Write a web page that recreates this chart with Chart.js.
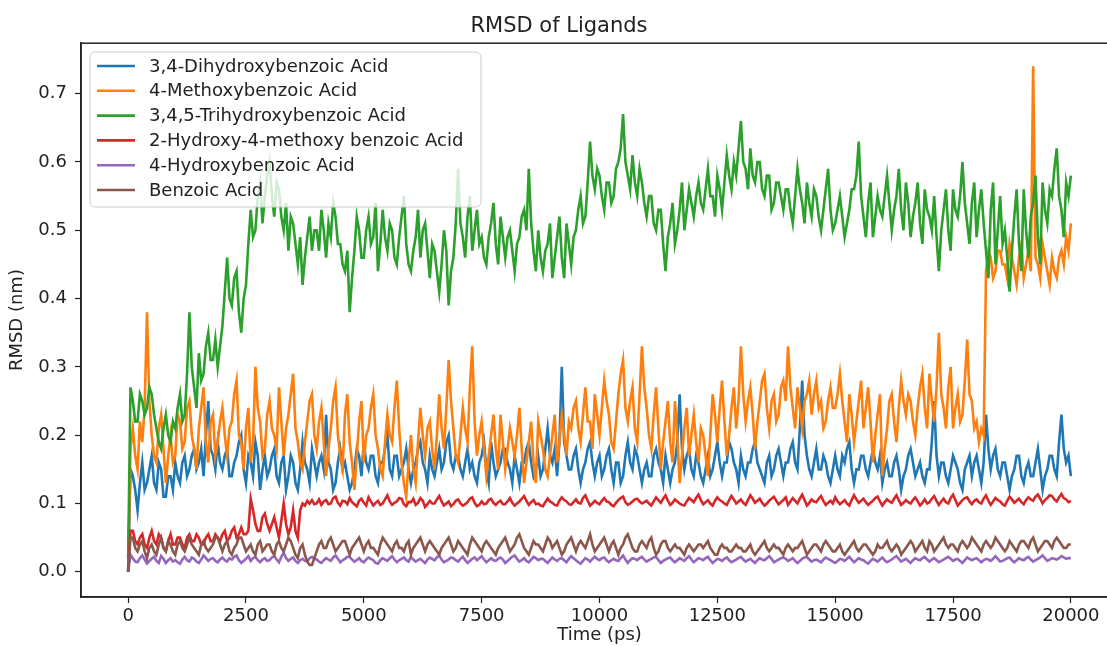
<!DOCTYPE html>
<html>
<head>
<meta charset="utf-8">
<script src="https://cdn.jsdelivr.net/npm/chart.js@4.4.1/dist/chart.umd.min.js"></script>
<style>
  html, body { margin: 0; padding: 0; background: #fff; overflow: hidden; }
  #wrap { width: 1130px; height: 646px; }
</style>
</head>
<body>
<div id="wrap"><canvas id="rmsd" width="1130" height="646"></canvas></div>
<script>
// RMSD (nm), one value every 50 ps from 0 to 20000 ps (20 values per row = 1000 ps)
var labels = ["3,4-Dihydroxybenzoic Acid", "4-Methoxybenzoic Acid", "3,4,5-Trihydroxybenzoic Acid",
              "2-Hydroxy-4-methoxy benzoic Acid", "4-Hydroxybenzoic Acid", "Benzoic Acid"];
var colors = ["#1f77b4", "#ff7f0e", "#2ca02c", "#d62728", "#9467bd", "#8c564b"];
var stepPs = 50;
var xTicks = [0, 2500, 5000, 7500, 10000, 12500, 15000, 17500, 20000];
var yTicks = [0.0, 0.1, 0.2, 0.3, 0.4, 0.5, 0.6, 0.7];

var dihydroxy = [
  0.00, 0.15, 0.14, 0.12, 0.09, 0.13, 0.16, 0.12, 0.13, 0.15, 0.17, 0.13, 0.12, 0.16, 0.15, 0.11, 0.11, 0.14, 0.14, 0.12,
  0.16, 0.14, 0.13, 0.16, 0.17, 0.14, 0.15, 0.17, 0.18, 0.15, 0.16, 0.18, 0.14, 0.20, 0.25, 0.18, 0.17, 0.15, 0.19, 0.16,
  0.15, 0.17, 0.18, 0.14, 0.14, 0.16, 0.17, 0.19, 0.20, 0.15, 0.13, 0.17, 0.16, 0.14, 0.19, 0.17, 0.12, 0.15, 0.17, 0.14,
  0.15, 0.17, 0.18, 0.14, 0.13, 0.16, 0.17, 0.12, 0.14, 0.17, 0.16, 0.13, 0.12, 0.15, 0.19, 0.16, 0.15, 0.13, 0.18, 0.16,
  0.14, 0.16, 0.17, 0.15, 0.23, 0.16, 0.15, 0.12, 0.13, 0.16, 0.18, 0.15, 0.16, 0.14, 0.12, 0.13, 0.15, 0.18, 0.17, 0.14,
  0.19, 0.16, 0.15, 0.17, 0.17, 0.14, 0.13, 0.16, 0.16, 0.18, 0.20, 0.15, 0.14, 0.17, 0.17, 0.14, 0.15, 0.16, 0.18, 0.15,
  0.13, 0.15, 0.16, 0.18, 0.19, 0.16, 0.15, 0.13, 0.17, 0.15, 0.14, 0.16, 0.18, 0.15, 0.16, 0.19, 0.20, 0.16, 0.15, 0.17,
  0.17, 0.15, 0.14, 0.16, 0.18, 0.15, 0.16, 0.14, 0.13, 0.16, 0.17, 0.19, 0.15, 0.13, 0.19, 0.16, 0.14, 0.15, 0.16, 0.18,
  0.18, 0.16, 0.15, 0.13, 0.17, 0.15, 0.13, 0.16, 0.16, 0.18, 0.19, 0.16, 0.14, 0.15, 0.17, 0.14, 0.15, 0.18, 0.21, 0.17,
  0.16, 0.18, 0.14, 0.19, 0.30, 0.19, 0.17, 0.15, 0.15, 0.17, 0.18, 0.15, 0.13, 0.15, 0.16, 0.18, 0.19, 0.16, 0.14, 0.16,
  0.17, 0.14, 0.15, 0.17, 0.18, 0.15, 0.13, 0.16, 0.16, 0.13, 0.14, 0.17, 0.19, 0.16, 0.15, 0.18, 0.17, 0.15, 0.13, 0.15,
  0.16, 0.14, 0.14, 0.17, 0.18, 0.16, 0.15, 0.13, 0.17, 0.15, 0.13, 0.15, 0.16, 0.19, 0.26, 0.18, 0.15, 0.17, 0.18, 0.15,
  0.14, 0.17, 0.16, 0.14, 0.13, 0.15, 0.17, 0.14, 0.15, 0.17, 0.19, 0.16, 0.14, 0.16, 0.16, 0.19, 0.18, 0.16, 0.15, 0.13,
  0.17, 0.15, 0.14, 0.16, 0.16, 0.18, 0.19, 0.16, 0.15, 0.14, 0.13, 0.16, 0.17, 0.14, 0.15, 0.17, 0.18, 0.16, 0.14, 0.16,
  0.16, 0.18, 0.19, 0.16, 0.15, 0.21, 0.28, 0.20, 0.17, 0.15, 0.14, 0.16, 0.18, 0.15, 0.15, 0.17, 0.16, 0.14, 0.13, 0.15,
  0.17, 0.15, 0.14, 0.17, 0.16, 0.18, 0.19, 0.15, 0.13, 0.15, 0.15, 0.17, 0.17, 0.15, 0.14, 0.16, 0.18, 0.16, 0.15, 0.17,
  0.13, 0.15, 0.16, 0.14, 0.14, 0.16, 0.17, 0.15, 0.12, 0.14, 0.15, 0.17, 0.18, 0.16, 0.14, 0.15, 0.16, 0.14, 0.13, 0.15,
  0.15, 0.19, 0.25, 0.17, 0.14, 0.16, 0.16, 0.14, 0.13, 0.15, 0.17, 0.16, 0.15, 0.13, 0.12, 0.15, 0.16, 0.17, 0.14, 0.16,
  0.17, 0.15, 0.13, 0.16, 0.23, 0.18, 0.15, 0.17, 0.18, 0.15, 0.14, 0.16, 0.16, 0.14, 0.12, 0.14, 0.15, 0.17, 0.17, 0.14,
  0.13, 0.15, 0.16, 0.14, 0.14, 0.16, 0.18, 0.15, 0.12, 0.14, 0.15, 0.17, 0.17, 0.15, 0.14, 0.19, 0.23, 0.18, 0.16, 0.17,
  0.14
];

var methoxy = [
  0.00, 0.18, 0.21, 0.17, 0.15, 0.22, 0.19, 0.24, 0.38, 0.25, 0.20, 0.17, 0.16, 0.21, 0.23, 0.18, 0.13, 0.17, 0.20, 0.16,
  0.17, 0.23, 0.22, 0.18, 0.19, 0.24, 0.25, 0.20, 0.18, 0.15, 0.21, 0.24, 0.27, 0.19, 0.16, 0.22, 0.23, 0.17, 0.19, 0.22,
  0.24, 0.20, 0.17, 0.21, 0.22, 0.26, 0.28, 0.20, 0.19, 0.15, 0.21, 0.24, 0.16, 0.19, 0.30, 0.24, 0.22, 0.17, 0.18, 0.23,
  0.25, 0.21, 0.20, 0.18, 0.27, 0.22, 0.17, 0.21, 0.23, 0.26, 0.29, 0.21, 0.19, 0.16, 0.15, 0.19, 0.22, 0.25, 0.26, 0.20,
  0.18, 0.22, 0.24, 0.19, 0.14, 0.18, 0.21, 0.25, 0.27, 0.20, 0.17, 0.15, 0.23, 0.26, 0.19, 0.16, 0.12, 0.17, 0.22, 0.25,
  0.16, 0.20, 0.21, 0.24, 0.26, 0.20, 0.18, 0.15, 0.14, 0.19, 0.23, 0.20, 0.19, 0.24, 0.28, 0.21, 0.16, 0.13, 0.11, 0.16,
  0.20, 0.15, 0.13, 0.19, 0.24, 0.20, 0.17, 0.21, 0.22, 0.18, 0.15, 0.20, 0.26, 0.21, 0.18, 0.24, 0.31, 0.25, 0.21, 0.17,
  0.16, 0.20, 0.24, 0.21, 0.19, 0.27, 0.33, 0.22, 0.17, 0.20, 0.22, 0.18, 0.14, 0.17, 0.20, 0.23, 0.18, 0.15, 0.23, 0.19,
  0.15, 0.18, 0.21, 0.19, 0.17, 0.20, 0.24, 0.18, 0.13, 0.16, 0.19, 0.22, 0.16, 0.13, 0.22, 0.20, 0.18, 0.15, 0.14, 0.17,
  0.20, 0.23, 0.16, 0.19, 0.23, 0.20, 0.17, 0.22, 0.21, 0.24, 0.25, 0.21, 0.19, 0.23, 0.27, 0.22, 0.22, 0.18, 0.26, 0.23,
  0.20, 0.24, 0.28, 0.25, 0.23, 0.19, 0.18, 0.22, 0.26, 0.29, 0.31, 0.24, 0.22, 0.25, 0.27, 0.21, 0.19, 0.26, 0.33, 0.27,
  0.24, 0.20, 0.18, 0.23, 0.27, 0.21, 0.15, 0.19, 0.22, 0.25, 0.19, 0.16, 0.25, 0.20, 0.13, 0.17, 0.21, 0.24, 0.17, 0.20,
  0.23, 0.19, 0.16, 0.21, 0.20, 0.17, 0.14, 0.20, 0.26, 0.23, 0.19, 0.24, 0.28, 0.22, 0.17, 0.20, 0.24, 0.27, 0.21, 0.25,
  0.33, 0.26, 0.22, 0.25, 0.27, 0.23, 0.18, 0.22, 0.25, 0.28, 0.29, 0.24, 0.21, 0.25, 0.26, 0.22, 0.23, 0.27, 0.28, 0.25,
  0.33, 0.27, 0.24, 0.21, 0.27, 0.24, 0.21, 0.25, 0.26, 0.28, 0.23, 0.26, 0.28, 0.24, 0.25, 0.21, 0.22, 0.25, 0.27, 0.24,
  0.24, 0.26, 0.29, 0.25, 0.22, 0.19, 0.26, 0.23, 0.19, 0.22, 0.25, 0.28, 0.21, 0.24, 0.27, 0.22, 0.16, 0.20, 0.23, 0.26,
  0.14, 0.18, 0.21, 0.25, 0.26, 0.22, 0.19, 0.24, 0.28, 0.25, 0.23, 0.26, 0.25, 0.22, 0.20, 0.24, 0.27, 0.29, 0.24, 0.21,
  0.29, 0.25, 0.22, 0.27, 0.35, 0.26, 0.24, 0.21, 0.27, 0.30, 0.21, 0.24, 0.26, 0.22, 0.23, 0.28, 0.34, 0.26, 0.25, 0.21,
  0.22, 0.19, 0.21, 0.20, 0.44, 0.47, 0.46, 0.43, 0.44, 0.47, 0.47, 0.45, 0.45, 0.43, 0.48, 0.46, 0.44, 0.42, 0.46, 0.48,
  0.43, 0.45, 0.47, 0.44, 0.74, 0.46, 0.45, 0.43, 0.48, 0.46, 0.44, 0.42, 0.46, 0.44, 0.43, 0.46, 0.47, 0.45, 0.49, 0.47,
  0.51
];

var trihydroxy = [
  0.02, 0.27, 0.25, 0.22, 0.22, 0.26, 0.25, 0.23, 0.24, 0.27, 0.26, 0.23, 0.21, 0.19, 0.18, 0.21, 0.23, 0.20, 0.19, 0.22,
  0.21, 0.24, 0.26, 0.22, 0.23, 0.29, 0.38, 0.30, 0.27, 0.24, 0.32, 0.28, 0.29, 0.33, 0.35, 0.31, 0.31, 0.34, 0.30, 0.33,
  0.36, 0.41, 0.46, 0.40, 0.39, 0.43, 0.44, 0.38, 0.35, 0.40, 0.42, 0.48, 0.53, 0.49, 0.50, 0.55, 0.57, 0.51, 0.55, 0.58,
  0.60, 0.55, 0.52, 0.57, 0.56, 0.52, 0.50, 0.54, 0.47, 0.52, 0.51, 0.48, 0.45, 0.49, 0.42, 0.46, 0.49, 0.52, 0.47, 0.50,
  0.50, 0.47, 0.53, 0.50, 0.46, 0.51, 0.49, 0.54, 0.52, 0.48, 0.48, 0.45, 0.44, 0.47, 0.38, 0.43, 0.47, 0.52, 0.50, 0.46,
  0.46, 0.50, 0.52, 0.48, 0.49, 0.54, 0.44, 0.48, 0.53, 0.49, 0.47, 0.51, 0.50, 0.46, 0.45, 0.49, 0.52, 0.55, 0.48, 0.45,
  0.44, 0.47, 0.49, 0.53, 0.46, 0.50, 0.51, 0.47, 0.43, 0.48, 0.47, 0.44, 0.41, 0.45, 0.50, 0.47, 0.39, 0.44, 0.46, 0.51,
  0.59, 0.51, 0.49, 0.46, 0.52, 0.55, 0.47, 0.50, 0.53, 0.48, 0.49, 0.46, 0.45, 0.49, 0.51, 0.54, 0.48, 0.45, 0.52, 0.49,
  0.46, 0.49, 0.50, 0.47, 0.44, 0.48, 0.49, 0.52, 0.53, 0.50, 0.59, 0.51, 0.47, 0.44, 0.50, 0.46, 0.44, 0.47, 0.48, 0.51,
  0.43, 0.46, 0.49, 0.52, 0.46, 0.43, 0.51, 0.48, 0.45, 0.49, 0.50, 0.53, 0.55, 0.51, 0.52, 0.57, 0.63, 0.58, 0.56, 0.59,
  0.58, 0.55, 0.53, 0.57, 0.57, 0.54, 0.55, 0.59, 0.60, 0.62, 0.67, 0.60, 0.58, 0.56, 0.61, 0.57, 0.55, 0.59, 0.57, 0.54,
  0.52, 0.55, 0.55, 0.51, 0.50, 0.53, 0.53, 0.48, 0.44, 0.49, 0.51, 0.54, 0.48, 0.50, 0.53, 0.57, 0.50, 0.53, 0.56, 0.54,
  0.52, 0.55, 0.57, 0.54, 0.53, 0.56, 0.59, 0.55, 0.55, 0.52, 0.58, 0.56, 0.53, 0.57, 0.61, 0.58, 0.56, 0.60, 0.58, 0.62,
  0.66, 0.60, 0.59, 0.56, 0.62, 0.58, 0.57, 0.60, 0.60, 0.56, 0.55, 0.58, 0.58, 0.53, 0.54, 0.57, 0.57, 0.55, 0.53, 0.56,
  0.56, 0.53, 0.51, 0.55, 0.59, 0.56, 0.54, 0.51, 0.57, 0.54, 0.52, 0.56, 0.55, 0.52, 0.50, 0.53, 0.56, 0.59, 0.53, 0.50,
  0.51, 0.53, 0.55, 0.52, 0.49, 0.51, 0.53, 0.56, 0.56, 0.58, 0.63, 0.55, 0.52, 0.49, 0.54, 0.57, 0.49, 0.52, 0.55, 0.53,
  0.52, 0.55, 0.58, 0.54, 0.50, 0.53, 0.55, 0.59, 0.53, 0.50, 0.57, 0.54, 0.49, 0.52, 0.54, 0.57, 0.51, 0.48, 0.56, 0.53,
  0.52, 0.50, 0.55, 0.49, 0.44, 0.50, 0.53, 0.56, 0.50, 0.47, 0.56, 0.53, 0.52, 0.55, 0.60, 0.54, 0.51, 0.48, 0.54, 0.57,
  0.49, 0.53, 0.56, 0.51, 0.47, 0.43, 0.53, 0.57, 0.45, 0.50, 0.55, 0.48, 0.50, 0.46, 0.41, 0.47, 0.52, 0.56, 0.48, 0.44,
  0.56, 0.50, 0.46, 0.52, 0.54, 0.58, 0.49, 0.45, 0.57, 0.53, 0.51, 0.56, 0.55, 0.59, 0.62, 0.55, 0.53, 0.49, 0.57, 0.55,
  0.58
];

var hydroxyMethoxy = [
  0.00, 0.06, 0.06, 0.045, 0.04, 0.05, 0.055, 0.04, 0.035, 0.05, 0.06, 0.045, 0.04, 0.055, 0.05, 0.035, 0.03, 0.045, 0.055, 0.04,
  0.04, 0.05, 0.05, 0.04, 0.035, 0.05, 0.055, 0.045, 0.045, 0.055, 0.05, 0.04, 0.04, 0.05, 0.055, 0.045, 0.045, 0.055, 0.05, 0.045,
  0.055, 0.06, 0.045, 0.05, 0.06, 0.065, 0.05, 0.055, 0.065, 0.055, 0.055, 0.06, 0.107, 0.09, 0.07, 0.06, 0.06, 0.08, 0.085, 0.07,
  0.06, 0.07, 0.08, 0.065, 0.05, 0.075, 0.10, 0.07, 0.055, 0.065, 0.09, 0.06, 0.05, 0.09, 0.10, 0.097, 0.104, 0.10, 0.105, 0.099,
  0.10, 0.106, 0.098, 0.103, 0.105, 0.099, 0.10, 0.108, 0.11, 0.101, 0.097, 0.104, 0.103, 0.099, 0.108, 0.102, 0.099, 0.096, 0.104, 0.107,
  0.101, 0.097, 0.109, 0.103, 0.097, 0.101, 0.104, 0.098, 0.10, 0.106, 0.112, 0.103, 0.098, 0.101, 0.103, 0.108, 0.107, 0.099, 0.096, 0.102,
  0.102, 0.107, 0.098, 0.101, 0.108, 0.104, 0.095, 0.099, 0.104, 0.10, 0.10, 0.106, 0.111, 0.103, 0.097, 0.10, 0.103, 0.096, 0.099, 0.104,
  0.106, 0.10, 0.097, 0.099, 0.102, 0.107, 0.109, 0.101, 0.096, 0.098, 0.103, 0.099, 0.10, 0.105, 0.107, 0.101, 0.098, 0.102, 0.104, 0.099,
  0.099, 0.103, 0.108, 0.101, 0.097, 0.10, 0.103, 0.107, 0.111, 0.104, 0.098, 0.102, 0.105, 0.099, 0.10, 0.097, 0.096, 0.102, 0.107, 0.103,
  0.101, 0.098, 0.097, 0.104, 0.109, 0.105, 0.103, 0.099, 0.098, 0.102, 0.106, 0.101, 0.10, 0.108, 0.112, 0.104, 0.097, 0.10, 0.104, 0.101,
  0.099, 0.104, 0.108, 0.103, 0.102, 0.098, 0.096, 0.101, 0.105, 0.108, 0.11, 0.102, 0.098, 0.10, 0.103, 0.106, 0.107, 0.103, 0.10, 0.102,
  0.104, 0.10, 0.097, 0.103, 0.109, 0.105, 0.101, 0.107, 0.112, 0.104, 0.098, 0.101, 0.106, 0.103, 0.10, 0.098, 0.097, 0.103, 0.108, 0.105,
  0.102, 0.108, 0.113, 0.105, 0.099, 0.102, 0.105, 0.10, 0.097, 0.104, 0.109, 0.105, 0.103, 0.10, 0.098, 0.105, 0.111, 0.106, 0.10, 0.103,
  0.106, 0.101, 0.098, 0.105, 0.112, 0.107, 0.101, 0.104, 0.107, 0.101, 0.097, 0.10, 0.104, 0.107, 0.11, 0.104, 0.099, 0.102, 0.105, 0.109,
  0.098, 0.103, 0.108, 0.104, 0.10, 0.107, 0.113, 0.105, 0.097, 0.101, 0.106, 0.103, 0.102, 0.107, 0.111, 0.104, 0.098, 0.101, 0.104, 0.10,
  0.109, 0.103, 0.099, 0.102, 0.105, 0.10, 0.097, 0.105, 0.112, 0.106, 0.101, 0.104, 0.107, 0.102, 0.098, 0.101, 0.104, 0.108, 0.11, 0.103,
  0.097, 0.102, 0.106, 0.103, 0.101, 0.107, 0.112, 0.105, 0.098, 0.101, 0.105, 0.102, 0.10, 0.105, 0.109, 0.103, 0.097, 0.101, 0.106, 0.10,
  0.102, 0.107, 0.111, 0.104, 0.098, 0.103, 0.107, 0.102, 0.10, 0.108, 0.113, 0.105, 0.097, 0.101, 0.105, 0.108, 0.109, 0.103, 0.099, 0.104,
  0.106, 0.102, 0.10, 0.107, 0.112, 0.104, 0.098, 0.103, 0.108, 0.105, 0.103, 0.099, 0.097, 0.104, 0.11, 0.106, 0.101, 0.104, 0.107, 0.102,
  0.099, 0.105, 0.109, 0.106, 0.104, 0.11, 0.113, 0.107, 0.10, 0.105, 0.108, 0.112, 0.111, 0.106, 0.103, 0.109, 0.114, 0.108, 0.106, 0.102,
  0.104
];

var hydroxy = [
  0.00, 0.025, 0.02, 0.015, 0.014, 0.02, 0.024, 0.018, 0.012, 0.016, 0.019, 0.022, 0.016, 0.013, 0.023, 0.019, 0.013, 0.017, 0.02, 0.015,
  0.017, 0.014, 0.012, 0.018, 0.022, 0.017, 0.015, 0.021, 0.019, 0.015, 0.013, 0.018, 0.024, 0.02, 0.016, 0.019, 0.02, 0.016, 0.014, 0.018,
  0.021, 0.017, 0.015, 0.02, 0.018, 0.022, 0.024, 0.017, 0.013, 0.016, 0.019, 0.023, 0.016, 0.02, 0.022, 0.017, 0.014, 0.018, 0.02, 0.016,
  0.017, 0.021, 0.023, 0.018, 0.014, 0.022, 0.028, 0.02, 0.016, 0.019, 0.021, 0.016, 0.013, 0.017, 0.019, 0.016, 0.015, 0.02, 0.022, 0.019,
  0.018, 0.015, 0.013, 0.017, 0.02, 0.018, 0.016, 0.021, 0.024, 0.019, 0.014, 0.017, 0.019, 0.022, 0.022, 0.018, 0.015, 0.017, 0.02, 0.016,
  0.014, 0.018, 0.021, 0.019, 0.017, 0.013, 0.012, 0.017, 0.02, 0.018, 0.016, 0.02, 0.023, 0.018, 0.014, 0.017, 0.019, 0.021, 0.017, 0.015,
  0.022, 0.018, 0.015, 0.017, 0.019, 0.016, 0.013, 0.018, 0.021, 0.019, 0.017, 0.021, 0.024, 0.018, 0.014, 0.016, 0.018, 0.021, 0.02, 0.017,
  0.015, 0.019, 0.022, 0.017, 0.013, 0.016, 0.019, 0.021, 0.017, 0.02, 0.023, 0.018, 0.014, 0.017, 0.02, 0.017, 0.016, 0.019, 0.021, 0.018,
  0.013, 0.016, 0.019, 0.022, 0.024, 0.019, 0.015, 0.017, 0.02, 0.016, 0.014, 0.018, 0.022, 0.02, 0.017, 0.019, 0.019, 0.016, 0.013, 0.017,
  0.021, 0.018, 0.016, 0.019, 0.02, 0.017, 0.014, 0.019, 0.023, 0.02, 0.017, 0.014, 0.012, 0.016, 0.02, 0.018, 0.015, 0.019, 0.022, 0.019,
  0.017, 0.02, 0.021, 0.017, 0.014, 0.017, 0.019, 0.017, 0.016, 0.02, 0.024, 0.018, 0.013, 0.017, 0.02, 0.019, 0.017, 0.02, 0.022, 0.018,
  0.015, 0.017, 0.019, 0.021, 0.022, 0.017, 0.013, 0.016, 0.018, 0.02, 0.021, 0.017, 0.014, 0.017, 0.02, 0.018, 0.016, 0.02, 0.023, 0.018,
  0.014, 0.017, 0.02, 0.019, 0.017, 0.02, 0.022, 0.017, 0.013, 0.016, 0.019, 0.018, 0.016, 0.019, 0.021, 0.017, 0.014, 0.016, 0.018, 0.02,
  0.022, 0.018, 0.015, 0.017, 0.019, 0.016, 0.013, 0.017, 0.02, 0.018, 0.017, 0.02, 0.023, 0.019, 0.014, 0.016, 0.018, 0.02, 0.021, 0.019,
  0.016, 0.018, 0.02, 0.016, 0.013, 0.016, 0.019, 0.021, 0.022, 0.018, 0.015, 0.017, 0.018, 0.016, 0.014, 0.018, 0.021, 0.019, 0.017, 0.015,
  0.013, 0.016, 0.019, 0.018, 0.016, 0.019, 0.022, 0.018, 0.014, 0.017, 0.02, 0.018, 0.017, 0.014, 0.012, 0.016, 0.019, 0.017, 0.015, 0.018,
  0.021, 0.017, 0.014, 0.016, 0.018, 0.021, 0.023, 0.019, 0.015, 0.017, 0.019, 0.016, 0.013, 0.017, 0.02, 0.018, 0.017, 0.02, 0.022, 0.018,
  0.015, 0.018, 0.02, 0.017, 0.014, 0.016, 0.018, 0.02, 0.022, 0.019, 0.016, 0.018, 0.019, 0.016, 0.013, 0.017, 0.021, 0.019, 0.017, 0.019,
  0.02, 0.017, 0.014, 0.017, 0.019, 0.018, 0.016, 0.019, 0.023, 0.019, 0.015, 0.016, 0.018, 0.02, 0.021, 0.017, 0.014, 0.017, 0.02, 0.018,
  0.017, 0.02, 0.022, 0.018, 0.015, 0.017, 0.019, 0.021, 0.024, 0.02, 0.016, 0.018, 0.02, 0.019, 0.018, 0.02, 0.023, 0.021, 0.019, 0.02,
  0.02
];

var benzoic = [
  0.00, 0.05, 0.05, 0.035, 0.03, 0.04, 0.045, 0.03, 0.02, 0.035, 0.04, 0.03, 0.025, 0.04, 0.05, 0.035, 0.03, 0.045, 0.04, 0.03,
  0.025, 0.04, 0.045, 0.035, 0.03, 0.04, 0.05, 0.04, 0.035, 0.03, 0.025, 0.04, 0.045, 0.035, 0.03, 0.035, 0.04, 0.05, 0.05, 0.04,
  0.03, 0.04, 0.045, 0.03, 0.025, 0.035, 0.04, 0.05, 0.05, 0.04, 0.03, 0.035, 0.04, 0.03, 0.025, 0.04, 0.045, 0.03, 0.035, 0.04,
  0.04, 0.03, 0.025, 0.04, 0.045, 0.035, 0.03, 0.04, 0.05, 0.045, 0.035, 0.025, 0.02, 0.035, 0.04, 0.025, 0.015, 0.01, 0.01, 0.02,
  0.03, 0.04, 0.045, 0.035, 0.035, 0.045, 0.05, 0.04, 0.03, 0.035, 0.04, 0.045, 0.045, 0.035, 0.025, 0.035, 0.04, 0.045, 0.05, 0.04,
  0.03, 0.04, 0.045, 0.035, 0.035, 0.03, 0.025, 0.04, 0.05, 0.045, 0.04, 0.035, 0.03, 0.04, 0.045, 0.035, 0.035, 0.03, 0.04, 0.045,
  0.025, 0.035, 0.04, 0.045, 0.05, 0.04, 0.03, 0.04, 0.045, 0.04, 0.035, 0.03, 0.025, 0.035, 0.04, 0.045, 0.05, 0.04, 0.03, 0.035,
  0.045, 0.04, 0.035, 0.03, 0.025, 0.04, 0.05, 0.045, 0.04, 0.035, 0.03, 0.04, 0.045, 0.04, 0.035, 0.03, 0.025, 0.035, 0.04, 0.045,
  0.05, 0.04, 0.03, 0.035, 0.04, 0.05, 0.055, 0.045, 0.035, 0.03, 0.025, 0.035, 0.045, 0.04, 0.04, 0.035, 0.03, 0.04, 0.05, 0.045,
  0.035, 0.04, 0.045, 0.035, 0.025, 0.03, 0.04, 0.045, 0.05, 0.04, 0.03, 0.04, 0.045, 0.04, 0.035, 0.045, 0.055, 0.04, 0.03, 0.035,
  0.04, 0.045, 0.05, 0.04, 0.03, 0.04, 0.045, 0.035, 0.025, 0.035, 0.04, 0.05, 0.055, 0.045, 0.035, 0.03, 0.03, 0.04, 0.045, 0.04,
  0.035, 0.045, 0.05, 0.035, 0.025, 0.03, 0.04, 0.045, 0.045, 0.035, 0.03, 0.035, 0.04, 0.035, 0.035, 0.03, 0.025, 0.035, 0.04, 0.035,
  0.03, 0.035, 0.04, 0.04, 0.035, 0.04, 0.045, 0.035, 0.03, 0.025, 0.025, 0.035, 0.04, 0.035, 0.035, 0.03, 0.03, 0.035, 0.04, 0.035,
  0.035, 0.03, 0.03, 0.035, 0.04, 0.03, 0.025, 0.03, 0.035, 0.04, 0.045, 0.035, 0.03, 0.035, 0.04, 0.035, 0.035, 0.03, 0.025, 0.035,
  0.04, 0.035, 0.03, 0.035, 0.035, 0.04, 0.045, 0.035, 0.025, 0.03, 0.035, 0.04, 0.04, 0.035, 0.03, 0.04, 0.045, 0.04, 0.035, 0.03,
  0.03, 0.035, 0.04, 0.03, 0.025, 0.03, 0.035, 0.04, 0.045, 0.035, 0.03, 0.035, 0.04, 0.04, 0.035, 0.03, 0.025, 0.03, 0.04, 0.035,
  0.035, 0.04, 0.045, 0.035, 0.03, 0.035, 0.04, 0.035, 0.025, 0.03, 0.035, 0.04, 0.045, 0.04, 0.03, 0.035, 0.04, 0.045, 0.035, 0.03,
  0.045, 0.04, 0.03, 0.035, 0.04, 0.045, 0.05, 0.04, 0.035, 0.04, 0.04, 0.035, 0.03, 0.04, 0.045, 0.04, 0.035, 0.04, 0.05, 0.045,
  0.04, 0.035, 0.03, 0.04, 0.045, 0.04, 0.035, 0.04, 0.05, 0.045, 0.04, 0.035, 0.03, 0.035, 0.045, 0.04, 0.035, 0.03, 0.04, 0.045,
  0.045, 0.04, 0.035, 0.045, 0.05, 0.04, 0.03, 0.035, 0.04, 0.045, 0.045, 0.04, 0.035, 0.045, 0.05, 0.045, 0.04, 0.035, 0.035, 0.04,
  0.04
];

var series = [dihydroxy, methoxy, trihydroxy, hydroxyMethoxy, hydroxy, benzoic];
var FONT = "'DejaVu Sans', sans-serif";
var INK = "#222";
var LINE_W = 2.6;

var datasets = series.map(function (vals, k) {
	return {
		label: labels[k],
		data: vals.map(function (v, i) { return {x: i * stepPs, y: v}; }),
		borderColor: colors[k],
		backgroundColor: colors[k],
		borderWidth: LINE_W,
		pointRadius: 0,
		tension: 0,
		fill: false,
		// matplotlib draws the last series on top
		order: series.length - k
	};
});

// box around the axes, matplotlib style
var framePlugin = {
	id: "frame",
	afterDatasetsDraw: function (chart) {
		var a = chart.chartArea, ctx = chart.ctx;
		ctx.save();
		ctx.strokeStyle = INK;
		ctx.lineWidth = 1.5;
		ctx.strokeRect(a.left, a.top, a.right - a.left, a.bottom - a.top);
		ctx.restore();
	}
};

// legend box in the upper left of the axes
var legendPlugin = {
	id: "boxLegend",
	afterDatasetsDraw: function (chart) {
		var ctx = chart.ctx;
		var x = 90, y = 52, w = 391, h = 155, r = 5;
		ctx.save();
		ctx.beginPath();
		ctx.roundRect(x, y, w, h, r);
		ctx.fillStyle = "rgba(255,255,255,0.8)";
		ctx.fill();
		ctx.strokeStyle = "#cccccc";
		ctx.lineWidth = 1;
		ctx.stroke();
		ctx.font = "18px " + FONT;
		ctx.textBaseline = "middle";
		chart.data.datasets.forEach(function (ds, i) {
			var cy = y + 14 + i * 24.8;
			ctx.strokeStyle = ds.borderColor;
			ctx.lineWidth = LINE_W;
			ctx.beginPath();
			ctx.moveTo(97, cy);
			ctx.lineTo(135, cy);
			ctx.stroke();
			ctx.fillStyle = INK;
			ctx.fillText(ds.label, 149, cy + 1);
		});
		ctx.restore();
	}
};

var ctx = document.getElementById("rmsd");
var chart = new Chart(ctx, {
	type: "line",
	data: {datasets: datasets},
	options: {
		responsive: false,
		animation: false,
		events: [],
		layout: {padding: {left: 0, right: 12, top: 0, bottom: 0}},
		plugins: {
			legend: {display: false},
			tooltip: {enabled: false},
			title: {
				display: true,
				text: "RMSD of Ligands",
				color: INK,
				font: {family: FONT, size: 21, weight: "normal"},
				padding: {top: 14, bottom: 4}
			}
		},
		scales: {
			x: {
				type: "linear",
				min: -1000,
				max: 21000,
				afterBuildTicks: function (s) { s.ticks = xTicks.map(function (v) { return {value: v}; }); },
				afterFit: function (s) { s.height = 49; },
				grid: {drawOnChartArea: false, drawTicks: true, tickLength: 6, color: INK, tickWidth: 1.2},
				border: {display: true, color: INK, width: 1.5},
				ticks: {
					color: INK, font: {family: FONT, size: 18}, padding: 3, maxRotation: 0,
					callback: function (v) { return String(v); }
				},
				title: {display: true, text: "Time (ps)", color: INK, font: {family: FONT, size: 18}, padding: {top: 0, bottom: 0}}
			},
			y: {
				min: -0.03685,
				max: 0.77385,
				afterBuildTicks: function (s) { s.ticks = yTicks.map(function (v) { return {value: v}; }); },
				afterFit: function (s) { s.width = 81; },
				grid: {drawOnChartArea: false, drawTicks: true, tickLength: 6, color: INK, tickWidth: 1.2},
				border: {display: true, color: INK, width: 1.5},
				ticks: {
					color: INK, font: {family: FONT, size: 18}, padding: 8,
					callback: function (v) { return v.toFixed(1); }
				},
				title: {display: true, text: "RMSD (nm)", color: INK, font: {family: FONT, size: 18}, padding: {top: 7, bottom: 0}}
			}
		}
	},
	plugins: [framePlugin, legendPlugin]
});
</script>
</body>
</html>
